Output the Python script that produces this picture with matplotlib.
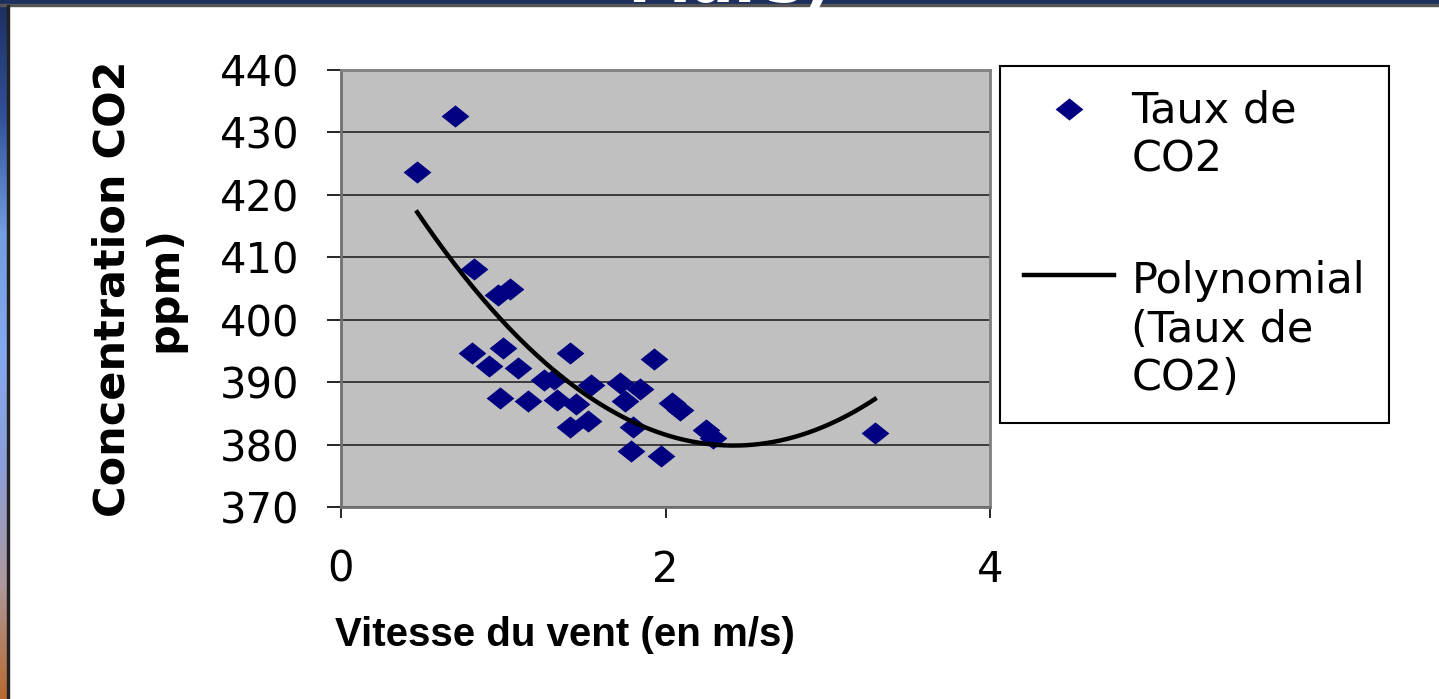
import matplotlib
matplotlib.use('Agg')
import matplotlib.pyplot as plt
import numpy as np
from matplotlib.path import Path
from matplotlib.patches import Rectangle

plt.rcParams['font.family'] = ['DejaVu Sans']

# data: wind speed (m/s) vs CO2 (ppm)
vitesse = [0.47, 0.70, 0.82, 0.97, 1.04, 0.81, 1.00, 0.91, 1.09, 1.41,
           1.93, 1.25, 1.31, 0.98, 1.15, 1.33, 1.45, 1.54, 1.72, 1.84,
           1.75, 1.41, 1.52, 1.80, 1.79, 1.97, 2.04, 2.09, 2.25, 2.29,
           3.29]
co2 = [423.7, 432.6, 408.2, 404.0, 404.9, 394.6, 395.5, 392.6, 392.2, 394.6,
       393.7, 390.3, 390.5, 387.5, 387.0, 387.1, 386.5, 389.5, 389.9, 388.9,
       386.9, 382.8, 383.7, 382.8, 379.0, 378.1, 386.7, 385.5, 382.3, 381.0,
       381.8]
x_ticks = [0, 2, 4]
y_ticks = [370, 380, 390, 400, 410, 420, 430, 440]

W, H = 1439, 699
fig = plt.figure(figsize=(W / 100, H / 100), dpi=100)

# slide background: navy band on top, gradient strip on the left
fig.patches.append(Rectangle((0, 1 - 5 / H), 1, 5 / H, transform=fig.transFigure,
                             color='#1c2f5e', zorder=0))
fig.patches.append(Rectangle((0, 1 - 6 / H), 1, 1.5 / H, transform=fig.transFigure,
                             color='#555555', zorder=0))
strip = fig.add_axes([0, 0, 7 / W, 1])
grad = np.array([[0.11, 0.18, 0.37], [0.20, 0.32, 0.60], [0.45, 0.62, 0.88],
                 [0.52, 0.66, 0.94], [0.55, 0.62, 0.85], [0.68, 0.60, 0.62],
                 [0.72, 0.42, 0.19]])
idx = np.linspace(0, len(grad) - 1, 200)
img = np.stack([np.interp(idx, np.arange(len(grad)), grad[:, c]) for c in range(3)], axis=-1)
strip.imshow(img[:, None, :], aspect='auto')
strip.axis('off')
fig.patches.append(Rectangle((7 / W, 0), 1.5 / W, 1 - 5 / H, transform=fig.transFigure,
                             color='#222222', zorder=0))

# cut-off slide title
fig.text(0.507, 1 - 1.5 / H, 'Mars)', color='white', fontsize=46, fontweight='bold',
         ha='center', va='baseline')

ax = fig.add_axes([341 / W, 1 - 507 / H, 649 / W, 437 / H])
ax.set_facecolor('#c0c0c0')

diamond = Path([(-1, 0), (0, 0.8), (1, 0), (0, -0.8), (-1, 0)],
               [Path.MOVETO, Path.LINETO, Path.LINETO, Path.LINETO, Path.CLOSEPOLY])
ax.scatter(vitesse, co2, marker=diamond, s=20 ** 2, color='#000080', linewidths=0,
           zorder=3, label='Taux de\nCO2')

# polynomial (order 2) trend line like the spreadsheet
coef = np.polyfit(vitesse, co2, 2)
xs = np.linspace(min(vitesse), max(vitesse), 200)
ax.plot(xs, np.polyval(coef, xs), color='black', lw=3.2, zorder=4,
        label='Polynomial\n(Taux de\nCO2)')

ax.set_xlim(0, 4)
ax.set_ylim(370, 440)
ax.set_xticks(x_ticks)
ax.set_yticks(y_ticks)
ax.yaxis.grid(True, color='#303030', lw=1.3)
ax.set_axisbelow(True)
ax.tick_params(axis='both', labelsize=30, direction='out', color='black', width=1.2)
ax.tick_params(axis='y', length=10, pad=20)
ax.tick_params(axis='x', length=8, pad=22)
for s in ['top', 'right']:
    ax.spines[s].set_color('#808080')
    ax.spines[s].set_linewidth(2)
for s in ['left', 'bottom']:
    ax.spines[s].set_color('#707070')
    ax.spines[s].set_linewidth(2)

ax.set_xlabel('Vitesse du vent (en m/s)', fontsize=29, fontweight='bold',
              family=['Liberation Sans', 'DejaVu Sans'])
ax.xaxis.set_label_coords(0.345, -0.25)
ax.set_ylabel('Concentration CO2\nppm)', fontsize=31, fontweight='bold', linespacing=1.3)
ax.yaxis.set_label_coords(-0.24, 0.5)

leg = ax.legend(loc='upper left', bbox_to_anchor=(1000 / W, 1 - 66 / H),
                bbox_transform=fig.transFigure, fontsize=31, frameon=True,
                fancybox=False, edgecolor='black', framealpha=1, borderpad=0.55,
                labelspacing=1.85, handlelength=2.1, handletextpad=0.4,
                borderaxespad=0, scatterpoints=1)
leg.get_frame().set_linewidth(1.5)
for item in leg._legend_handle_box.get_children()[0].get_children():
    item.align = 'top'

plt.savefig('out.png', dpi=100)
